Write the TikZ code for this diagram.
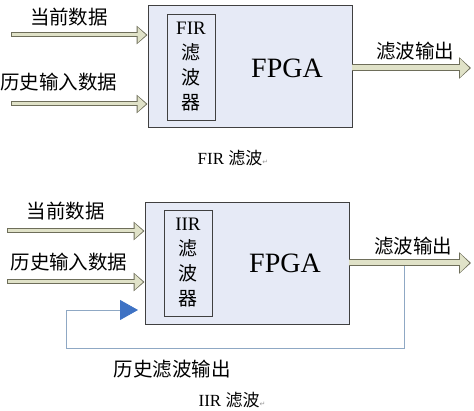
\documentclass[tikz,border=0pt]{standalone}
\usepackage{fontspec}
\setmainfont{Liberation Serif}
\newfontfamily\cjk{Noto Sans CJK SC}
\newfontfamily\markfont{DejaVu Sans}
\usetikzlibrary{arrows.meta}
\definecolor{fpgafill}{HTML}{E6EAF6}
\definecolor{arrowfill}{HTML}{E0E2C8}
\definecolor{arrowline}{HTML}{6E6E5A}
\definecolor{fbline}{HTML}{8FA8C4}
\definecolor{tipblue}{HTML}{3E72C4}

\begin{document}
\begin{tikzpicture}
  [x=1pt,y=-1pt,every node/.style={inner sep=0pt},
   fpga/.style={draw=black!75,fill=fpgafill,line width=0.9pt,minimum width=204pt,minimum height=122pt},
   filt/.style={draw=black!75,line width=0.9pt,minimum width=48pt,minimum height=106pt,align=center,font=\fontsize{19}{25}\selectfont},
   lbl/.style={font=\cjk\fontsize{19.5}{20}\selectfont},
   capt/.style={font=\fontsize{17}{17}\selectfont},
   datain/.style={draw=arrowline,line width=5pt,-{Triangle[length=11pt,width=18pt]},
     postaction={draw=arrowfill,line width=3pt,shorten <=1pt,shorten >=1.6pt,-{Triangle[length=8.4pt,width=15pt]}}},
   dataout/.style={draw=arrowline,line width=7pt,-{Triangle[length=12pt,width=21pt]},
     postaction={draw=arrowfill,line width=5pt,shorten >=1.6pt,-{Triangle[length=9.4pt,width=18pt]}}},
   fb/.style={draw=fbline,line width=0.8pt,-{Triangle[length=18pt,width=20pt,color=tipblue,fill=tipblue]}}]
  \useasboundingbox (0,0) rectangle (474,411);

  % FIR
  \node[fpga] (fpga1) at (250,66) {};
  \node[filt] (fir) at (191,67) {FIR\\{\cjk 滤}\\{\cjk 波}\\{\cjk 器}};
  \node[font=\fontsize{28}{28}\selectfont] (chip1) at (287,68) {FPGA};
  \coordinate (cur1) at (11,35);
  \coordinate (hist1) at (11,104);
  \coordinate (out1) at (471,68);
  \draw[datain] (cur1) -- (fpga1.west |- cur1);
  \draw[datain] (hist1) -- (fpga1.west |- hist1);
  \draw[dataout] (fpga1.east |- out1) -- (out1);
  \node[lbl] (lcur1) at (69,17) {当前数据};
  \node[lbl] (lhist1) at (59,82) {历史输入数据};
  \node[lbl] (lout1) at (415,51) {滤波输出};
  \node[capt] (cap1) at (233,158) {FIR {\cjk 滤波}\textcolor{black!40}{\markfont\fontsize{7}{7}\selectfont ↵}};

  % IIR
  \node[fpga] (fpga2) at (247,263.5) {};
  \node[filt] (iir) at (188,263) {IIR\\{\cjk 滤}\\{\cjk 波}\\{\cjk 器}};
  \node[font=\fontsize{28}{28}\selectfont] (chip2) at (285,263) {FPGA};
  \coordinate (cur2) at (7,231);
  \coordinate (hist2) at (7,282);
  \coordinate (out2) at (471,263);
  \coordinate (tap) at (404,263);
  \draw[fb] (tap) -- (404,348) -| (66,310) -- (138,310);
  \draw[datain] (cur2) -- (fpga2.west |- cur2);
  \draw[datain] (hist2) -- (fpga2.west |- hist2);
  \draw[dataout] (fpga2.east |- out2) -- (out2);
  \node[lbl] (lcur2) at (66,211) {当前数据};
  \node[lbl] (lhist2) at (69,262) {历史输入数据};
  \node[lbl] (lout2) at (413,246) {滤波输出};
  \node[lbl] (lfb) at (172,369) {历史滤波输出};
  \node[capt] (cap2) at (232,400) {IIR {\cjk 滤波}\textcolor{black!40}{\markfont\fontsize{7}{7}\selectfont ↵}};
\end{tikzpicture}
\end{document}
